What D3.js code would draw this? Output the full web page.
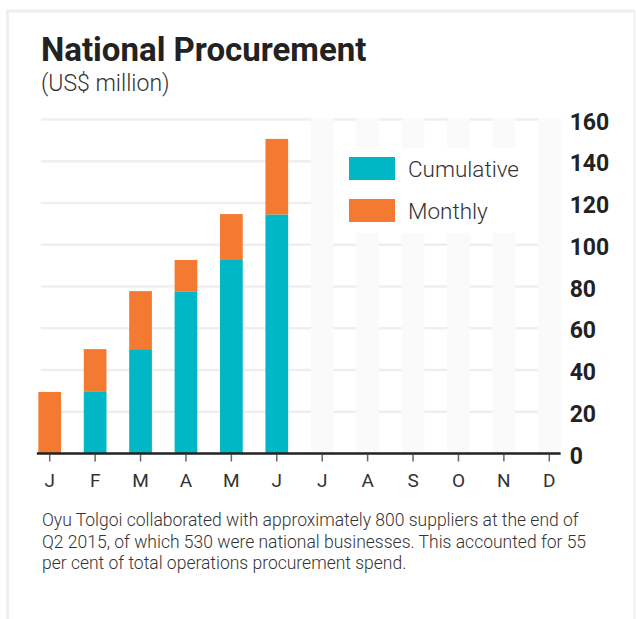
<!DOCTYPE html>
<html>
<head>
<meta charset="utf-8">
<script src="https://cdn.jsdelivr.net/npm/d3@7"></script>
<style>
  body { margin: 0; background: #fff; }
  svg text { font-family: Roboto, "Open Sans", sans-serif; }
</style>
</head>
<body>
<div id="chart"></div>
<script>
// DATA
const months = ["J", "F", "M", "A", "M ", "J ", "J  ", "A ", "S", "O", "N", "D"];
const monthLabels = ["J", "F", "M", "A", "M", "J", "J", "A", "S", "O", "N", "D"];
const cumulative = [0, 29.5, 50, 77.7, 92.7, 114.5]; // total up to previous month
const monthly = [29.5, 20.5, 27.8, 15, 22, 36.2];
const yTicks = [0, 20, 40, 60, 80, 100, 120, 140, 160];

const teal = "#00b7c6", orange = "#f47a32";

const W = 636, H = 619;
const svg = d3.select("#chart").append("svg")
    .attr("width", W)
    .attr("height", H);

// frame
svg.append("line").attr("x1", 6).attr("x2", 635).attr("y1", 11).attr("y2", 11)
    .attr("stroke", "#eeeeee").attr("stroke-width", 3);
svg.append("line").attr("x1", 7.5).attr("x2", 7.5).attr("y1", 10).attr("y2", H)
    .attr("stroke", "#eeeeee").attr("stroke-width", 3);
svg.append("line").attr("x1", 634.5).attr("x2", 634.5).attr("y1", 10).attr("y2", H)
    .attr("stroke", "#eeeeee").attr("stroke-width", 1.5);

// title
svg.append("text")
    .attr("x", 41).attr("y", 61)
    .attr("font-size", 33).attr("font-weight", 700).attr("fill", "#222")
    .text("National Procurement");
svg.append("text")
    .attr("x", 41).attr("y", 91)
    .attr("font-size", 23).attr("font-weight", 300).attr("fill", "#333")
    .text("(US$ million)");

// scales
const x = d3.scaleBand()
    .domain(months)
    .range([27, 572])
    .paddingInner(0.5)
    .paddingOuter(0.25);

const y = d3.scaleLinear()
    .domain([0, 160])
    .range([453.5, 119.5]);

const xStart = x(months[0]), xEnd = x(months[11]) + x.bandwidth();

// gridlines
svg.append("g").selectAll("line")
    .data(yTicks.slice(1))
    .enter().append("line")
    .attr("x1", xStart + 2.5).attr("x2", xEnd)
    .attr("y1", d => y(d)).attr("y2", d => y(d))
    .attr("stroke", "#efefef").attr("stroke-width", 2.7);

// empty months placeholders
svg.append("g").selectAll("rect")
    .data(months.slice(6))
    .enter().append("rect")
    .attr("x", d => x(d))
    .attr("width", x.bandwidth())
    .attr("y", y(160) - 1.5)
    .attr("height", y(0) - y(160) + 1.5)
    .attr("fill", "#fafafa");

// stacked bars
const bars = svg.append("g");
bars.selectAll(".cum")
    .data(cumulative)
    .enter().append("rect")
    .attr("class", "cum")
    .attr("x", (d, i) => x(months[i]))
    .attr("width", x.bandwidth())
    .attr("y", d => y(d))
    .attr("height", d => y(0) - y(d))
    .attr("fill", teal);
bars.selectAll(".mon")
    .data(monthly)
    .enter().append("rect")
    .attr("class", "mon")
    .attr("x", (d, i) => x(months[i]))
    .attr("width", x.bandwidth())
    .attr("y", (d, i) => y(cumulative[i] + d))
    .attr("height", (d, i) => y(cumulative[i]) - y(cumulative[i] + d))
    .attr("fill", orange);

// legend box (covers grid and placeholders)
svg.append("rect")
    .attr("x", 334).attr("y", 148).attr("width", 204).attr("height", 85)
    .attr("fill", "#fff");
const legend = svg.append("g").attr("transform", "translate(349,157)");
[["Cumulative", teal], ["Monthly", orange]].forEach((d, i) => {
    legend.append("rect")
        .attr("x", 0).attr("y", i * 42)
        .attr("width", 46).attr("height", 23)
        .attr("fill", d[1]);
    legend.append("text")
        .attr("x", 59).attr("y", i * 42 + 20)
        .attr("font-size", 22.5).attr("font-weight", 300).attr("fill", "#333")
        .text(d[0]);
});

// x axis
const xAxis = svg.append("g")
    .attr("transform", `translate(0,${y(0)})`)
    .call(d3.axisBottom(x).tickSize(8).tickPadding(12).tickFormat((d, i) => monthLabels[i]));
xAxis.select(".domain").remove();
xAxis.selectAll(".tick line").attr("stroke", "#666").attr("stroke-width", 1.5).attr("y1", 1);
xAxis.selectAll(".tick text")
    .attr("font-size", 19).attr("fill", "#333")
    .style("font-family", "Roboto, sans-serif");
svg.append("line")
    .attr("x1", xStart - 1.5).attr("x2", xEnd)
    .attr("y1", y(0)).attr("y2", y(0))
    .attr("stroke", "#222").attr("stroke-width", 2.5);

// y axis on the right
const yAxis = svg.append("g")
    .attr("transform", `translate(${xEnd},0)`)
    .call(d3.axisRight(y).tickValues(yTicks).tickSize(0).tickPadding(9));
yAxis.select(".domain").remove();
yAxis.selectAll(".tick text")
    .attr("dy", "0.42em")
    .attr("font-size", 23).attr("font-weight", 700).attr("fill", "#222")
    .style("font-family", "Roboto, sans-serif");

// caption
const caption = [
    "Oyu Tolgoi collaborated with approximately 800 suppliers at the end of",
    "Q2 2015, of which 530 were national businesses. This accounted for 55",
    "per cent of total operations procurement spend."
];
svg.append("g").selectAll("text")
    .data(caption)
    .enter().append("text")
    .attr("x", 42)
    .attr("y", (d, i) => 526 + i * 21.5)
    .attr("font-size", 17.5).attr("font-weight", 300).attr("fill", "#333")
    .text(d => d);
</script>
</body>
</html>
